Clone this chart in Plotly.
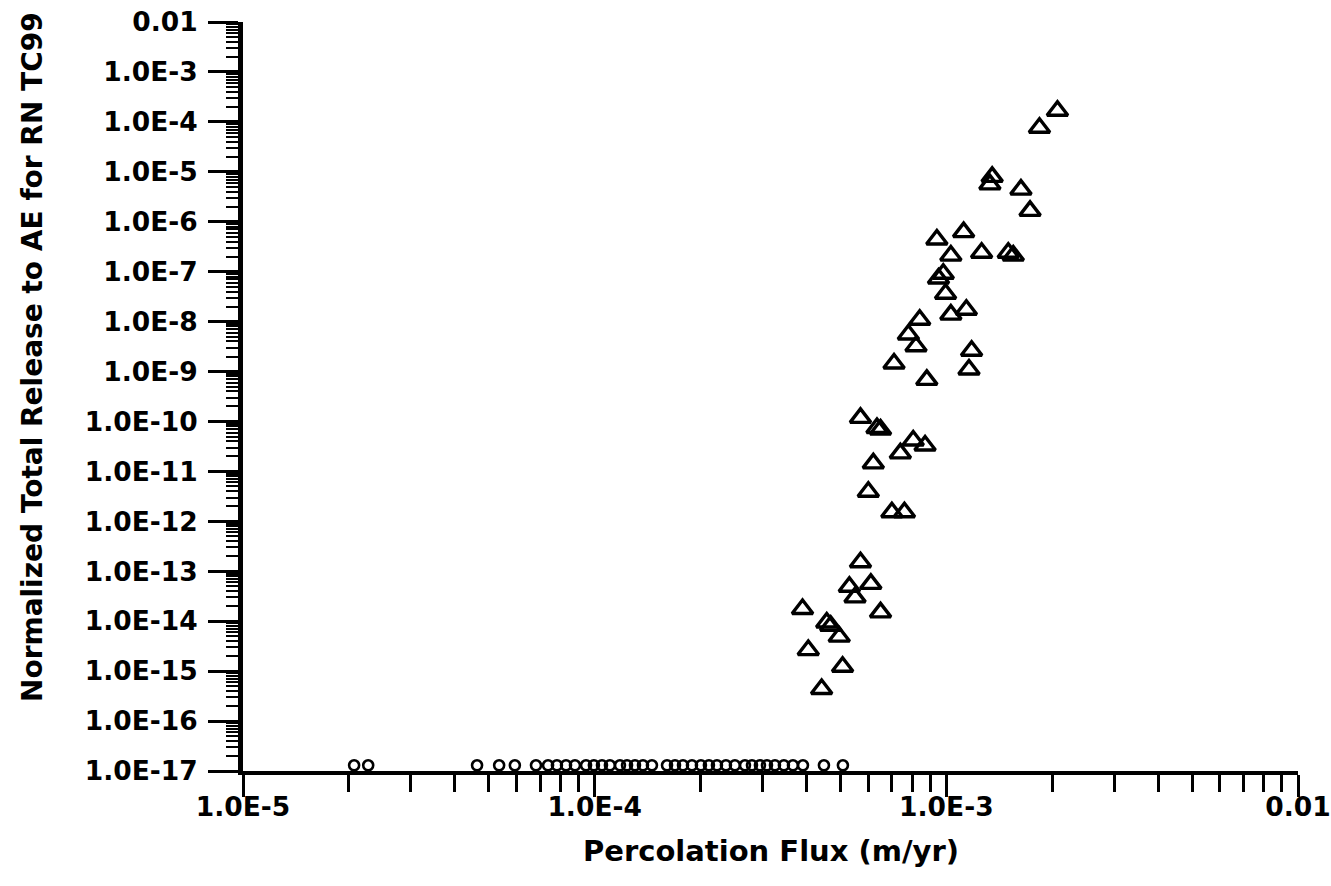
import plotly.graph_objects as go

# Triangle markers: percolation flux (m/yr) vs normalized total release
flux = [2.07e-3, 1.84e-3, 1.35e-3, 1.33e-3, 1.63e-3, 1.73e-3, 1.12e-3, 9.4e-4,
        1.03e-3, 1.26e-3, 1.50e-3, 1.55e-3, 9.8e-4, 9.5e-4, 9.95e-4, 1.14e-3,
        1.03e-3, 8.4e-4, 7.8e-4, 8.2e-4, 1.18e-3, 7.1e-4, 1.16e-3, 8.8e-4,
        5.7e-4, 6.35e-4, 6.5e-4, 8.05e-4, 8.7e-4, 7.4e-4, 6.2e-4, 6.0e-4,
        7.0e-4, 7.6e-4, 5.7e-4, 6.1e-4, 5.3e-4, 5.5e-4, 3.9e-4, 6.5e-4,
        4.57e-4, 4.69e-4, 4.96e-4, 4.05e-4, 5.07e-4, 4.42e-4]
release = [1.67e-4, 7.6e-5, 7.9e-6, 5.6e-6, 4.4e-6, 1.65e-6, 6.2e-7, 4.4e-7,
           2.1e-7, 2.4e-7, 2.4e-7, 2.1e-7, 9.1e-8, 7.3e-8, 3.6e-8, 1.73e-8,
           1.38e-8, 1.09e-8, 5.5e-9, 3.2e-9, 2.6e-9, 1.45e-9, 1.1e-9, 6.8e-10,
           1.18e-10, 7.4e-11, 6.9e-11, 4.15e-11, 3.3e-11, 2.3e-11, 1.45e-11, 3.9e-12,
           1.52e-12, 1.52e-12, 1.52e-13, 5.6e-14, 4.9e-14, 3.0e-14, 1.75e-14, 1.5e-14,
           9.4e-15, 8.1e-15, 4.9e-15, 2.64e-15, 1.22e-15, 4.4e-16]

# Realizations with negligible release, drawn along the bottom axis
floor_flux = [2.07e-5, 2.27e-5, 4.63e-5, 5.35e-5, 5.93e-5, 6.81e-5, 7.37e-5, 7.81e-5,
              8.29e-5, 8.79e-5, 9.45e-5, 9.95e-5, 1.049e-4, 1.105e-4, 1.18e-4, 1.236e-4,
              1.302e-4, 1.372e-4, 1.455e-4, 1.606e-4, 1.692e-4, 1.783e-4, 1.891e-4, 2.005e-4,
              2.113e-4, 2.227e-4, 2.362e-4, 2.505e-4, 2.675e-4, 2.801e-4, 2.951e-4, 3.09e-4,
              3.256e-4, 3.452e-4, 3.663e-4, 3.911e-4, 4.487e-4, 5.08e-4]
floor_release = [1.3e-17, 1.3e-17, 1.3e-17, 1.3e-17, 1.3e-17, 1.3e-17, 1.3e-17, 1.3e-17,
                 1.3e-17, 1.3e-17, 1.3e-17, 1.3e-17, 1.3e-17, 1.3e-17, 1.3e-17, 1.3e-17,
                 1.3e-17, 1.3e-17, 1.3e-17, 1.3e-17, 1.3e-17, 1.3e-17, 1.3e-17, 1.3e-17,
                 1.3e-17, 1.3e-17, 1.3e-17, 1.3e-17, 1.3e-17, 1.3e-17, 1.3e-17, 1.3e-17,
                 1.3e-17, 1.3e-17, 1.3e-17, 1.3e-17, 1.3e-17, 1.3e-17]

x_tickvals = [1e-5, 1e-4, 1e-3, 1e-2]
x_ticktext = ["1.0E-5", "1.0E-4", "1.0E-3", "0.01"]
y_tickvals = [1e-2, 1e-3, 1e-4, 1e-5, 1e-6, 1e-7, 1e-8, 1e-9, 1e-10, 1e-11,
              1e-12, 1e-13, 1e-14, 1e-15, 1e-16, 1e-17]
y_ticktext = ["0.01", "1.0E-3", "1.0E-4", "1.0E-5", "1.0E-6", "1.0E-7", "1.0E-8",
              "1.0E-9", "1.0E-10", "1.0E-11", "1.0E-12", "1.0E-13", "1.0E-14",
              "1.0E-15", "1.0E-16", "1.0E-17"]

x_minor = [m * 10.0 ** e for e in range(-5, -2) for m in range(2, 10)]
y_minor = [m * 10.0 ** e for e in range(-17, -2) for m in range(2, 10)]

FONT = "DejaVu Sans"

fig = go.Figure()
fig.add_trace(go.Scatter(
    x=floor_flux, y=floor_release, mode="markers",
    marker=dict(symbol="circle-open", size=10, color="black",
                line=dict(color="black", width=2.6)),
    showlegend=False, hoverinfo="skip"))
fig.add_trace(go.Scatter(
    x=flux, y=release, mode="markers",
    marker=dict(symbol="triangle-up-open", size=18, color="black",
                line=dict(color="black", width=3.4)),
    showlegend=False))

fig.update_layout(
    width=1331, height=886,
    margin=dict(l=243, r=33, t=22, b=115, autoexpand=False),
    paper_bgcolor="white", plot_bgcolor="white",
    font=dict(family=FONT, color="black", size=26, weight="bold"),
    xaxis=dict(
        type="log", range=[-5, -2], showgrid=False, zeroline=False,
        automargin=False,
        showline=True, linecolor="black", linewidth=4, mirror=False,
        tickmode="array", tickvals=x_tickvals, ticktext=x_ticktext,
        ticks="outside", ticklen=22, tickwidth=2.5, tickcolor="black",
        ticklabelstandoff=-13,
        tickfont=dict(family=FONT, size=26.5, color="black", weight="bold"),
        minor=dict(tickmode="array", tickvals=x_minor, ticks="outside",
                   ticklen=17, tickwidth=2.5, tickcolor="black", showgrid=False),
    ),
    yaxis=dict(
        type="log", range=[-17, -2], showgrid=False, zeroline=False,
        automargin=False,
        showline=True, linecolor="black", linewidth=5, mirror=False,
        tickmode="array", tickvals=y_tickvals, ticktext=y_ticktext,
        ticks="outside", ticklen=30, tickwidth=2.5, tickcolor="black",
        ticklabelstandoff=5,
        tickfont=dict(family=FONT, size=26.5, color="black", weight="bold"),
        minor=dict(tickmode="array", tickvals=y_minor, ticks="outside",
                   ticklen=12, tickwidth=2, tickcolor="black", showgrid=False),
    ),
    annotations=[
        dict(text="Percolation Flux (m/yr)", xref="paper", yref="paper",
             x=0.5, y=-0.107, xanchor="center", yanchor="middle", showarrow=False,
             font=dict(family=FONT, size=29, color="black", weight="bold")),
        dict(text="Normalized Total Release to AE for RN TC99", xref="paper", yref="paper",
             x=-0.2, y=0.5527, xanchor="center", yanchor="middle", showarrow=False,
             textangle=-90,
             font=dict(family=FONT, size=28, color="black", weight="bold")),
    ],
)

fig.write_html("out.html")
